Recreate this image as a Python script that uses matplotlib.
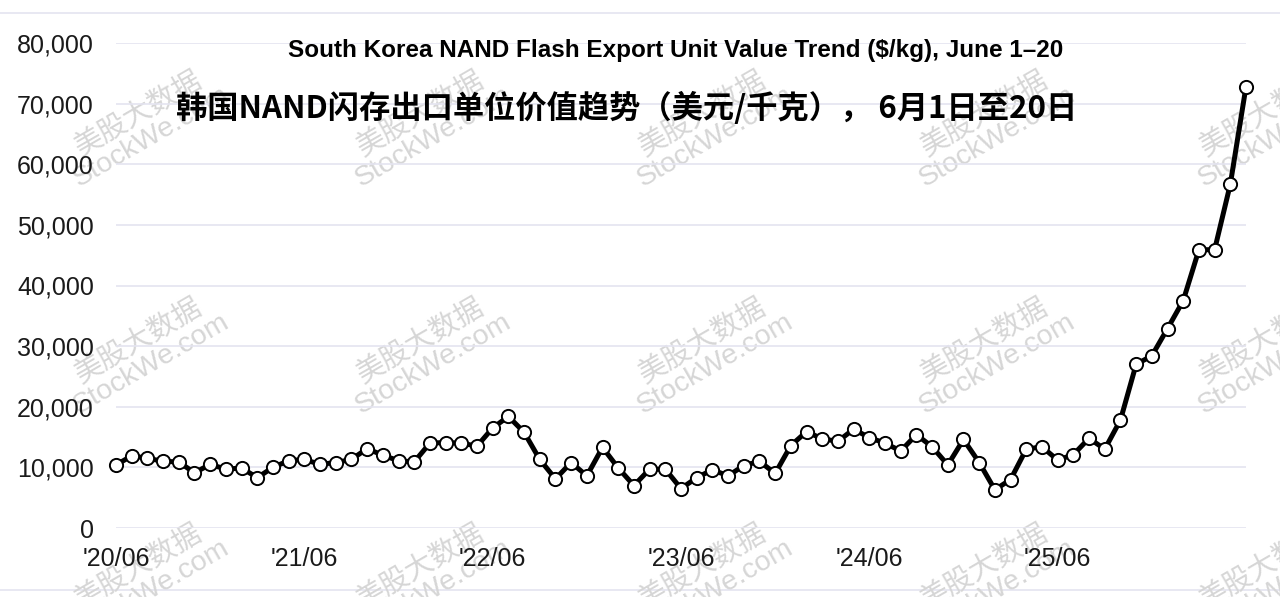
import matplotlib
matplotlib.use("Agg")
import matplotlib.pyplot as plt
from matplotlib.lines import Line2D
from matplotlib.ticker import FuncFormatter

# monthly export unit value, $/kg, '20/06 .. '26/06 (last = June 1-20)
values = [10400, 11900, 11500, 11000, 10900, 9100, 10500, 9700, 9900, 8300,
          10000, 11100, 11300, 10500, 10800, 11300, 13100, 12000, 11100, 10900,
          14000, 14100, 14000, 13500, 16500, 18400, 15800, 11300, 8100, 10800,
          8600, 13300, 9900, 7000, 9700, 9700, 6500, 8300, 9600, 8600,
          10300, 11000, 9000, 13600, 15900, 14700, 14300, 16300, 14900, 14000,
          12700, 15400, 13400, 10400, 14600, 10800, 6300, 8000, 13000, 13400,
          11200, 12100, 14800, 13000, 17800, 27000, 28400, 32900, 37500, 45900,
          45900, 56700, 72800]
tick_pos = [0, 12, 24, 36, 48, 60]
tick_labels = ["'20/06", "'21/06", "'22/06", "'23/06", "'24/06", "'25/06"]
y_ticks = [0, 10000, 20000, 30000, 40000, 50000, 60000, 70000, 80000]

title_en = "South Korea NAND Flash Export Unit Value Trend ($/kg), June 1\u201320"
title_cn = "韩国NAND闪存出口单位价值趋势（美元/千克）， 6月1日至20日"

plt.rcParams['font.family'] = ['Liberation Sans', 'Noto Sans CJK SC', 'DejaVu Sans']

W, H = 1280, 597
fig = plt.figure(figsize=(W / 100, H / 100), dpi=100)
fig.patch.set_facecolor('white')

# axes placed in pixel terms: x 116..1246, y 43..528
ax = fig.add_axes([116 / W, (H - 528) / H, (1246 - 116) / W, (528 - 43) / H])
ax.set_facecolor('none')

x = list(range(len(values)))
ax.plot(x, values, color='black', lw=3.6, zorder=3, solid_joinstyle='round',
        marker='o', markersize=9.5, markerfacecolor='white',
        markeredgecolor='black', markeredgewidth=1.4, clip_on=False)

ax.set_xlim(0, 72)
ax.set_ylim(0, 80000)
ax.set_yticks(y_ticks)
ax.yaxis.set_major_formatter(FuncFormatter(lambda v, p: f"{int(v):,}"))
ax.set_xticks(tick_pos)
ax.set_xticklabels(tick_labels)
ax.tick_params(axis='both', length=0, labelsize=18, colors='#1a1a1a')
ax.tick_params(axis='y', pad=16)
ax.tick_params(axis='x', pad=14)
ax.grid(axis='y', color='#e4e4f0', lw=1.2)
ax.set_axisbelow(True)
for s in ax.spines.values():
    s.set_visible(False)

# thin frame lines at top and bottom of the picture
for yy in [13, 590]:
    fig.add_artist(Line2D([0, 1], [1 - yy / H, 1 - yy / H], transform=fig.transFigure,
                          color='#e4e4f0', lw=1.2, zorder=-2))

# titles
fig.text(676 / W, 1 - 50 / H, title_en, ha='center', va='center',
         fontsize=17.5, fontweight='bold', color='black')
fig.text(627 / W, 1 - 108 / H, title_cn, ha='center', va='center',
         fontsize=22.5, fontweight='bold', color='black',
         family=['Noto Sans CJK SC', 'DejaVu Sans'])

# watermarks (tiled, cut by the picture edge as in the source)
wm_x = [145, 427, 709, 991, 1270]
wm_y = [125, 352, 578]
for wy in wm_y:
    for wx in wm_x:
        fig.text(wx / W, 1 - wy / H, "美股大数据\nStockWe.com", ha='center', va='center',
                 rotation=30, rotation_mode='anchor', fontsize=20.5, color='#d6d6d6',
                 linespacing=1.0, multialignment='center', zorder=-1,
                 family=['Liberation Sans', 'Noto Sans CJK SC'])

fig.savefig("out.png", dpi=100, facecolor='white')
